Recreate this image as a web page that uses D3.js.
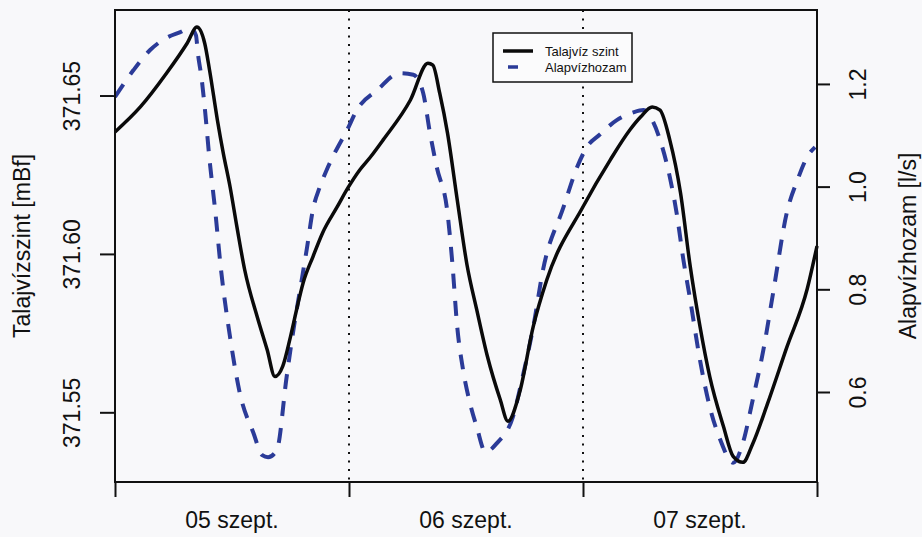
<!DOCTYPE html>
<html>
<head>
<meta charset="utf-8">
<script src="https://cdn.jsdelivr.net/npm/d3@7"></script>
<style>
  body { margin: 0; background: #f8f8fa; }
  text { font-family: "Liberation Sans", Arial, Helvetica, sans-serif; fill: #111; }
</style>
</head>
<body>
<svg></svg>
<script>
const width = 922;
const height = 537;

// hours since 05 szept. 00:00
const levelHours = [0, 2.6, 5.3, 7.4, 8.4, 9.2, 9.7, 10.5, 11.1, 11.8,
  12.5, 13.3, 14.6, 15.6, 16.4, 17.2, 18.0, 18.7, 19.3, 20.3,
  21.3, 22.8, 23.9, 25.1, 26.2, 27.5, 30.3, 32.1, 32.6, 33.3,
  34.1, 35.1, 36.1, 37.1, 38.2, 39.5, 40.3, 41.5, 42.9, 44.3,
  48.0, 50.8, 52.8, 53.9, 55.1, 55.9, 56.9, 58.0, 59.0, 60.0,
  61.0, 62.4, 63.4, 64.4, 65.4, 66.9, 68.9, 71.0, 72.0];
// Talajvíz szint [mBf]
const levelVals = [371.6385, 371.6464, 371.6571, 371.6665, 371.6716, 371.6665, 371.6580, 371.6423, 371.6319, 371.6212,
  371.6086, 371.5950, 371.5800, 371.5698, 371.5613, 371.5645, 371.5739, 371.5834, 371.5909, 371.5991,
  371.6067, 371.6149, 371.6209, 371.6265, 371.6306, 371.6360, 371.6486, 371.6602, 371.6596, 371.6508,
  371.6382, 371.6171, 371.5966, 371.5824, 371.5676, 371.5541, 371.5472, 371.5563, 371.5771, 371.5919,
  371.6149, 371.6297, 371.6391, 371.6432, 371.6464, 371.6454, 371.6360, 371.6193, 371.5960, 371.5771,
  371.5613, 371.5456, 371.5361, 371.5342, 371.5400, 371.5525, 371.5705, 371.5890, 371.6025];

const flowHours = [0, 1.9, 3.6, 5.3, 6.7, 7.7, 8.3, 8.5, 8.9, 9.2,
  9.7, 10.3, 10.8, 11.8, 12.8, 14.2, 15.1, 15.7, 16.6, 17.6,
  18.3, 19.2, 19.7, 20.3, 21.0, 21.7, 22.6, 23.8, 24.8, 26.9,
  29.2, 30.6, 31.6, 32.3, 33.0, 34.1, 34.6, 35.1, 35.7, 36.4,
  37.1, 38.0, 39.2, 40.8, 41.8, 42.9, 43.9, 46.0, 47.4, 48.4,
  49.7, 51.5, 53.1, 54.2, 54.9, 55.9, 56.9, 57.6, 58.3, 59.0,
  60.0, 61.0, 62.1, 63.4, 64.4, 65.4, 66.5, 67.5, 68.9, 70.0,
  71.0, 71.8];
// Alapvízhozam [l/s]
const flowVals = [1.175, 1.227, 1.266, 1.290, 1.301, 1.309, 1.295, 1.260, 1.208, 1.155,
  1.052, 0.949, 0.851, 0.707, 0.598, 0.520, 0.477, 0.473, 0.487, 0.629,
  0.721, 0.824, 0.882, 0.955, 0.999, 1.032, 1.068, 1.110, 1.149, 1.188,
  1.221, 1.218, 1.183, 1.105, 1.038, 0.949, 0.851, 0.727, 0.643, 0.579,
  0.532, 0.483, 0.501, 0.551, 0.629, 0.727, 0.838, 0.960, 1.038, 1.077,
  1.101, 1.130, 1.144, 1.149, 1.136, 1.091, 1.019, 0.949, 0.857, 0.779,
  0.662, 0.571, 0.506, 0.462, 0.501, 0.584, 0.682, 0.793, 0.949, 1.013,
  1.058, 1.077];

const dayTicks = [0, 24, 48, 72];
const dayLabelPos = [12, 36, 60];
const dayLabels = ["05 szept.", "06 szept.", "07 szept."];
const levelTicks = [371.55, 371.60, 371.65];
const flowTicks = [0.6, 0.8, 1.0, 1.2];
const seriesNames = ["Talajvíz szint", "Alapvízhozam"];

const margin = { top: 10, right: 105, bottom: 55, left: 115 };
const plotW = width - margin.left - margin.right;
const plotH = height - margin.top - margin.bottom;

const x = d3.scaleLinear().domain([0, 72]).range([0, plotW]);
const yLevel = d3.scaleLinear().domain([371.528, 371.677]).range([plotH, 0]);
const yFlow = d3.scaleLinear().domain([0.4247, 1.344]).range([plotH, 0]);

const svg = d3.select('svg')
  .attr('width', width)
  .attr('height', height);

svg.append('rect')
  .attr('width', width)
  .attr('height', height)
  .attr('fill', '#f8f8fa');

const g = svg.append('g')
  .attr('transform', `translate(${margin.left},${margin.top})`);

// day separators
g.selectAll('line.day')
  .data([24, 48])
  .enter().append('line')
    .attr('class', 'day')
    .attr('x1', d => x(d)).attr('x2', d => x(d))
    .attr('y1', 0).attr('y2', plotH)
    .attr('stroke', '#111')
    .attr('stroke-width', 2)
    .attr('stroke-dasharray', '2,6.5');

// bottom axis
const xAxis = g.append('g')
  .attr('transform', `translate(0,${plotH})`)
  .call(d3.axisBottom(x).tickValues(dayTicks).tickSize(15).tickFormat(''));
xAxis.select('.domain').remove();
xAxis.selectAll('line').attr('stroke', '#111').attr('stroke-width', 2);

g.selectAll('text.day')
  .data(dayLabelPos)
  .enter().append('text')
    .attr('class', 'day')
    .attr('x', d => x(d))
    .attr('y', plotH + 46)
    .attr('text-anchor', 'middle')
    .attr('font-size', 23)
    .text((d, i) => dayLabels[i]);

// left axis
const leftAxis = g.append('g')
  .call(d3.axisLeft(yLevel).tickValues(levelTicks).tickSize(15).tickFormat(d3.format('.2f')));
leftAxis.select('.domain').remove();
leftAxis.selectAll('line').attr('stroke', '#111').attr('stroke-width', 2);
leftAxis.selectAll('text')
  .attr('transform', 'rotate(-90)')
  .attr('x', 0)
  .attr('y', -43)
  .attr('dy', '0.35em')
  .attr('text-anchor', 'middle')
  .attr('font-size', 23)
  .attr('fill', '#111');

// right axis
const rightAxis = g.append('g')
  .attr('transform', `translate(${plotW},0)`)
  .call(d3.axisRight(yFlow).tickValues(flowTicks).tickSize(13).tickFormat(d3.format('.1f')));
rightAxis.select('.domain').remove();
rightAxis.selectAll('line').attr('stroke', '#111').attr('stroke-width', 2);
rightAxis.selectAll('text')
  .attr('transform', 'rotate(-90)')
  .attr('x', 0)
  .attr('y', 41)
  .attr('dy', '0.35em')
  .attr('text-anchor', 'middle')
  .attr('font-size', 23)
  .attr('fill', '#111');

// axis titles
svg.append('text')
  .attr('transform', `translate(22,${margin.top + plotH / 2}) rotate(-90)`)
  .attr('text-anchor', 'middle')
  .attr('dy', '0.35em')
  .attr('font-size', 23)
  .text('Talajvízszint [mBf]');

svg.append('text')
  .attr('transform', `translate(908,${margin.top + plotH / 2}) rotate(-90)`)
  .attr('text-anchor', 'middle')
  .attr('dy', '0.35em')
  .attr('font-size', 23)
  .text('Alapvízhozam [l/s]');

// series
const levelLine = d3.line()
  .x(d => x(d[0]))
  .y(d => yLevel(d[1]))
  .curve(d3.curveMonotoneX);

const flowLine = d3.line()
  .x(d => x(d[0]))
  .y(d => yFlow(d[1]))
  .curve(d3.curveMonotoneX);

g.append('path')
  .datum(d3.zip(flowHours, flowVals))
  .attr('d', flowLine)
  .attr('fill', 'none')
  .attr('stroke', '#2b3b98')
  .attr('stroke-width', 4)
  .attr('stroke-dasharray', '15,12');

g.append('path')
  .datum(d3.zip(levelHours, levelVals))
  .attr('d', levelLine)
  .attr('fill', 'none')
  .attr('stroke', '#0a0a0a')
  .attr('stroke-width', 3.5)
  .attr('stroke-linejoin', 'round');

// box
g.append('rect')
  .attr('width', plotW)
  .attr('height', plotH)
  .attr('fill', 'none')
  .attr('stroke', '#111')
  .attr('stroke-width', 2);

// legend
const legend = svg.append('g').attr('transform', 'translate(493,33)');
legend.append('rect')
  .attr('width', 139)
  .attr('height', 49)
  .attr('fill', '#fbfbfc')
  .attr('stroke', '#111')
  .attr('stroke-width', 1.5);
legend.append('line')
  .attr('x1', 10).attr('x2', 40).attr('y1', 18).attr('y2', 18)
  .attr('stroke', '#0a0a0a').attr('stroke-width', 3.5);
legend.append('line')
  .attr('x1', 15).attr('x2', 25).attr('y1', 34).attr('y2', 34)
  .attr('stroke', '#2b3b98').attr('stroke-width', 3.5);
legend.selectAll('text')
  .data(seriesNames)
  .enter().append('text')
    .attr('x', 52)
    .attr('y', (d, i) => 18 + i * 16)
    .attr('dy', '0.35em')
    .attr('font-size', 13)
    .text(d => d);
</script>
</body>
</html>
